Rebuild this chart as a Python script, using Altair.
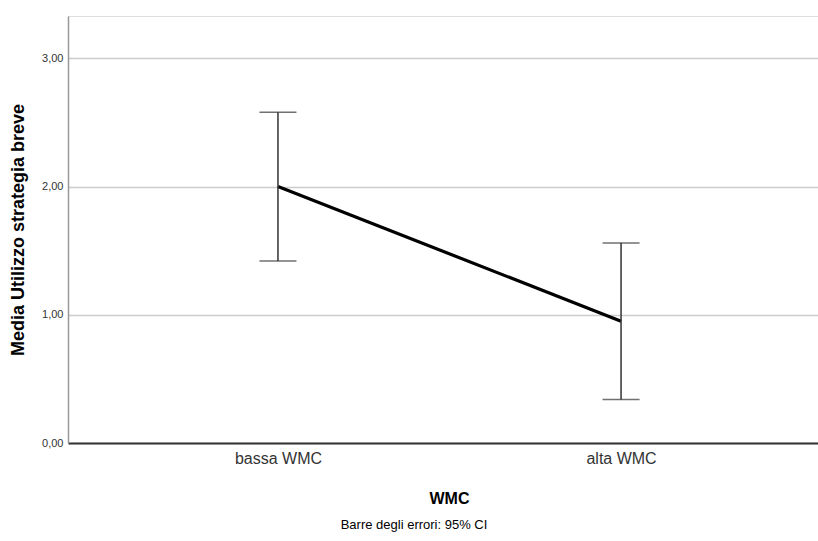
import altair as alt
import pandas as pd

groups = ["bassa WMC", "alta WMC"]
means = [2.00, 0.95]
ci_low = [1.42, 0.34]
ci_high = [2.58, 1.56]

df = pd.DataFrame({"group": groups, "mean": means, "lo": ci_low, "hi": ci_high})

SANS = "Liberation Sans, Arial"

xscale = alt.Scale(type="point", domain=groups, padding=0.593, align=0.516)
yscale = alt.Scale(domain=[0, 3.33], nice=False, zero=True)

xenc = alt.X(
    "group:N",
    scale=xscale,
    sort=groups,
    axis=alt.Axis(
        title="WMC",
        labelAngle=0,
        labelFont=SANS,
        labelFontSize=16,
        labelColor="#333333",
        labelPadding=7,
        ticks=False,
        domainColor="#333333",
        domainWidth=2,
        grid=False,
        titleFont=SANS,
        titleFontSize=16,
        titleFontWeight="bold",
        titleColor="#000000",
        titleX=381,
        titleY=60,
        titleBaseline="alphabetic",
        titleAnchor="start",
        titleAlign="center",
    ),
)

yaxis = alt.Axis(
    title="Media Utilizzo strategia breve",
    values=[0, 1, 2, 3],
    labelExpr="replace(format(datum.value, '.2f'), '.', ',')",
    labelFont=SANS,
    labelFontSize=11,
    labelColor="#333333",
    labelPadding=5,
    ticks=False,
    domainColor="#999999",
    domainWidth=1.5,
    grid=True,
    gridColor="#cccccc",
    gridWidth=1.5,
    titleFont=SANS,
    titleFontSize=18,
    titleFontWeight="bold",
    titleColor="#000000",
    titlePadding=14,
)

base = alt.Chart(df)

line = base.mark_line(color="#000000", strokeWidth=3.2).encode(
    x=xenc,
    y=alt.Y("mean:Q", scale=yscale, axis=yaxis),
)

rule = base.mark_rule(color="#333333", strokeWidth=1.5).encode(
    x=alt.X("group:N", scale=xscale, sort=groups),
    y=alt.Y("lo:Q", scale=yscale),
    y2="hi:Q",
)

cap_lo = base.mark_tick(color="#333333", thickness=1.5, size=37, orient="horizontal").encode(
    x=alt.X("group:N", scale=xscale, sort=groups),
    y=alt.Y("lo:Q", scale=yscale),
)

cap_hi = base.mark_tick(color="#333333", thickness=1.5, size=37, orient="horizontal").encode(
    x=alt.X("group:N", scale=xscale, sort=groups),
    y=alt.Y("hi:Q", scale=yscale),
)

chart = (
    alt.layer(line, rule, cap_lo, cap_hi)
    .properties(
        width=750,
        height=427,
        autosize="none",
        padding={"left": 68, "top": 16, "right": 0, "bottom": 98},
        title=alt.TitleParams(
            "Barre degli errori: 95% CI",
            orient="bottom",
            anchor="middle",
            frame="group",
            dx=-29,
            offset=13,
            font=SANS,
            fontSize=13,
            fontWeight="normal",
            color="#000000",
        ),
    )
    .configure_view(stroke=None)
    .configure(background="white")
)

chart.save("out.html", embed_options={"renderer": "svg", "actions": False})
